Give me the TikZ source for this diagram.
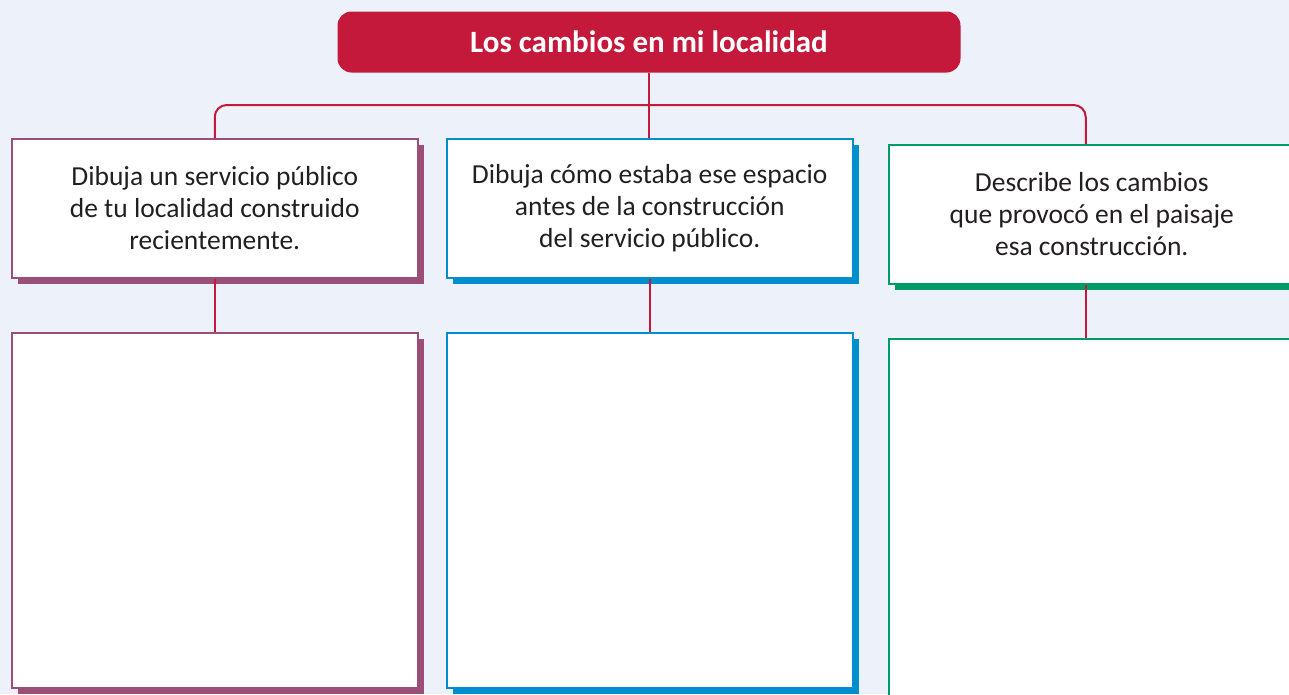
\documentclass[tikz,border=0pt]{standalone}
\usepackage{fontspec}
\setmainfont{Carlito}
\usepackage{tikz}
\usetikzlibrary{shadows}
\definecolor{bgblue}{HTML}{EDF2FA}
\definecolor{crimson}{HTML}{C4193B}
\definecolor{plum}{HTML}{9A4E78}
\definecolor{sky}{HTML}{008ECF}
\definecolor{leaf}{HTML}{009B67}
\definecolor{ink}{HTML}{231F20}

\begin{document}
\begin{tikzpicture}[x=1pt, y=-1pt,
    title/.style={rectangle, rounded corners=14pt, fill=crimson, text=white, minimum width=623pt, minimum height=61pt, font=\fontsize{31}{36}\selectfont\bfseries},
    card/.style={rectangle, draw=#1, line width=1.5pt, fill=white, drop shadow={shadow xshift=6pt, shadow yshift=-6pt, fill=#1, opacity=1}, minimum width=406pt, minimum height=139pt, anchor=north west, align=center, text=ink, font=\fontsize{27.5}{32}\selectfont},
    blank/.style={card=#1, minimum height=355pt},
    link/.style={draw=crimson, line width=2pt}
]
    % Background
    \fill[bgblue] (0,0) rectangle (1289,694);
    \useasboundingbox (0,0) rectangle (1289,694);
    \clip (0,0) rectangle (1289,694);

    % Title
    \node[title] (title) at (649,42) {Los cambios en mi localidad};

    % Questions
    \node[card=plum] (q1) at (11,138) {Dibuja un servicio público\\de tu localidad construido\\recientemente.};
    \node[card=sky] (q2) at (446,138) {Dibuja cómo estaba ese espacio\\antes de la construcción\\del servicio público.};
    \node[card=leaf] (q3) at (888,144) {Describe los cambios\\que provocó en el paisaje\\esa construcción.};

    % Answer boxes
    \node[blank=plum] (d1) at (11,332) {};
    \node[blank=sky] (d2) at (446,332) {};
    \node[blank=leaf, minimum height=400pt] (d3) at (888,338) {};

    % Links
    \coordinate (fork) at (649,105);
    \draw[link, rounded corners=12pt] (q1.north) |- (fork) -| ([xshift=-6pt]q3.north);
    \draw[link] (title.south) -- (title.south |- q2.north);
    \draw[link] (q1.south) -- (d1.north);
    \draw[link] (q2.south) -- (d2.north);
    \draw[link] ([xshift=-6pt]q3.south) -- ([xshift=-6pt]d3.north);

\end{tikzpicture}
\end{document}
